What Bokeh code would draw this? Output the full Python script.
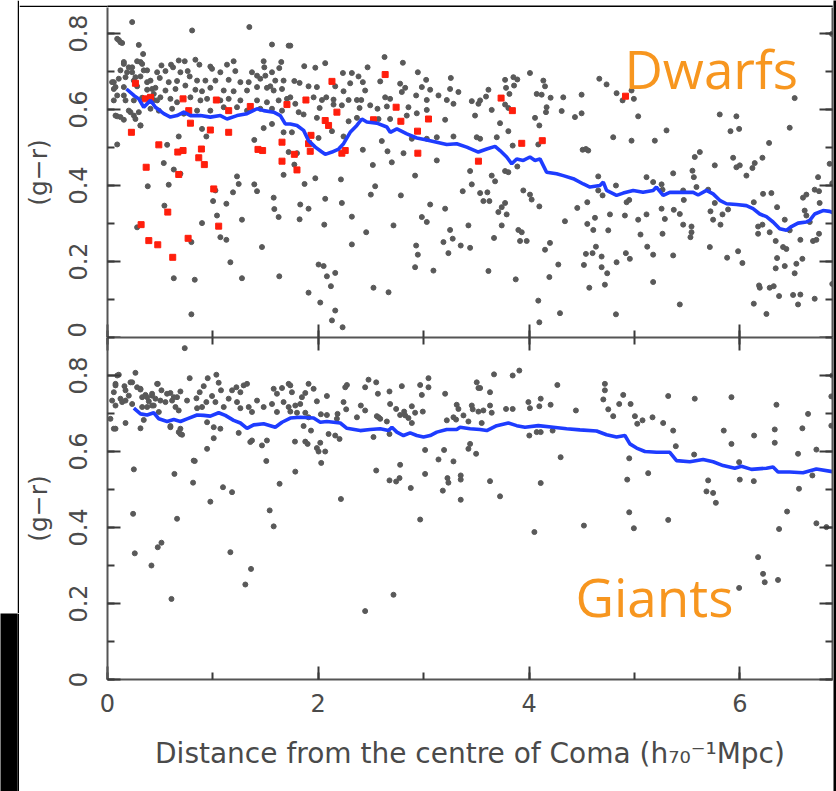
import numpy as np
from bokeh.plotting import figure
from bokeh.layouts import row, column
from bokeh.models import Range1d, LinearAxis, SingleIntervalTicker, Label, CustomLabelingPolicy
from bokeh.embed import file_html
from bokeh.resources import INLINE
from bokeh.core.validation import silence
from bokeh.core.validation.warnings import MISSING_RENDERERS

silence(MISSING_RENDERERS, True)

# ---------------- data (distance in h70^-1 Mpc, colour g-r) ----------------
dwarfs_grey = [
    (0.234,0.830),(0.803,0.808),(1.346,0.817),(0.107,0.783),(0.139,0.775),(0.297,0.770),(1.561,0.771),
    (0.338,0.746),(1.719,0.768),(0.155,0.725),(0.281,0.727),(0.329,0.720),(0.512,0.716),(0.603,0.718),
    (0.676,0.729),(0.733,0.727),(0.834,0.731),(0.872,0.718),(0.976,0.713),(1.134,0.718),(1.197,0.727),
    (1.482,0.727),(1.649,0.725),(1.488,0.711),(1.630,0.709),(0.123,0.703),(0.202,0.711),(0.234,0.698),
    (0.376,0.703),(0.471,0.698),(0.550,0.701),(0.622,0.711),(0.692,0.698),(0.761,0.701),(0.992,0.707),
    (1.071,0.698),(1.213,0.701),(1.371,0.698),(1.419,0.689),(1.498,0.689),(1.561,0.698),(0.060,0.672),
    (0.107,0.681),(0.171,0.685),(0.250,0.676),(0.313,0.687),(0.408,0.676),(0.496,0.683),(0.581,0.672),
    (0.660,0.675),(0.780,0.687),(0.850,0.676),(0.929,0.676),(1.024,0.676),(1.150,0.678),(1.261,0.672),
    (1.340,0.672),(1.450,0.681),(1.592,0.676),(1.671,0.676),(1.545,0.661),(0.060,0.654),(0.155,0.659),
    (0.281,0.661),(0.376,0.652),(0.455,0.657),(0.550,0.650),(0.645,0.654),(0.739,0.663),(0.834,0.652),
    (0.897,0.648),(0.976,0.657),(1.103,0.650),(1.197,0.648),(1.324,0.650),(1.419,0.659),(1.513,0.657),
    (1.577,0.650),(1.656,0.654),(0.060,0.624),(0.155,0.637),(0.250,0.624),(0.329,0.631),(0.439,0.625),
    (0.502,0.632),(0.597,0.628),(0.660,0.619),(0.787,0.632),(0.882,0.624),(0.945,0.628),(1.071,0.624),
    (1.150,0.628),(1.261,0.624),(1.419,0.624),(1.513,0.619),(1.624,0.624),(1.703,0.628),(0.092,0.582),
    (0.155,0.573),(0.202,0.597),(0.250,0.584),(0.297,0.593),(0.408,0.602),(0.487,0.597),(0.613,0.602),
    (0.724,0.589),(0.850,0.597),(0.976,0.597),(1.103,0.606),(1.229,0.606),(1.324,0.597),(1.450,0.602),
    (1.561,0.602),(1.656,0.597),(0.313,0.558),(0.897,0.549),(0.938,0.529),(0.676,0.529),(1.482,0.551),
    (1.561,0.562),(1.671,0.540),(1.393,0.520),(0.092,0.508),(0.566,0.507),(1.719,0.488),(0.534,0.459),
    (0.629,0.442),(0.692,0.431),(1.671,0.428),(1.229,0.424),(0.382,0.398),(0.581,0.402),(1.245,0.404),
    (1.393,0.403),(1.419,0.385),(1.191,0.382),(1.024,0.387),(1.002,0.359),(1.577,0.368),(1.128,0.352),
    (0.540,0.347),(1.583,0.338),(1.039,0.321),(1.624,0.317),(1.276,0.310),(0.897,0.301),(0.281,0.290),
    (1.071,0.264),(1.128,0.257),(1.466,0.238),(0.796,0.251),(1.166,0.198),(0.629,0.156),(0.828,0.152),
    (1.276,0.156),(1.630,0.161),(0.796,0.061),
    (0.092,0.786),(0.123,0.777),(0.044,0.672),(0.076,0.659),(0.092,0.637),(0.155,0.720),(0.186,0.698),
    (0.234,0.711),(0.265,0.685),(0.313,0.725),(0.344,0.703),(0.376,0.672),(0.423,0.654),(0.171,0.624),
    (0.076,0.584),(0.123,0.580),(0.218,0.593),(0.265,0.575),(0.313,0.558),(0.439,0.641),(0.471,0.624),
    (1.735,0.768),(2.629,0.738),(2.803,0.723),(1.867,0.714),(1.972,0.710),(2.066,0.722),(2.468,0.711),
    (2.234,0.696),(2.319,0.696),(2.382,0.687),(2.945,0.698),(3.024,0.678),(3.258,0.683),(1.773,0.675),
    (1.823,0.670),(1.908,0.661),(1.987,0.659),(2.161,0.661),(2.303,0.669),(2.423,0.672),(2.588,0.674),
    (2.777,0.668),(2.825,0.657),(2.983,0.659),(3.062,0.652),(3.141,0.637),(3.251,0.654),(3.330,0.646),
    (1.735,0.632),(1.956,0.632),(2.035,0.625),(2.076,0.632),(2.145,0.626),(2.240,0.648),(2.288,0.625),
    (2.367,0.625),(2.445,0.650),(2.408,0.625),(2.635,0.632),(2.682,0.628),(2.793,0.646),(2.929,0.637),
    (3.030,0.625),(3.220,0.625),(3.283,0.615),(3.457,0.622),(3.520,0.615),(1.861,0.587),(1.782,0.615),
    (2.013,0.604),(2.145,0.613),(2.224,0.611),(2.392,0.604),(2.493,0.611),(2.562,0.602),(2.651,0.608),
    (2.856,0.606),(2.935,0.590),(3.030,0.599),(3.488,0.584),(1.814,0.593),(1.987,0.578),(2.288,0.569),
    (2.367,0.578),(2.572,0.575),(2.682,0.575),(2.840,0.584),(3.204,0.573),(1.750,0.540),(2.003,0.525),
    (2.130,0.543),(2.240,0.529),(2.603,0.517),(2.888,0.523),(3.030,0.523),(3.283,0.529),(3.125,0.527),
    (3.504,0.527),(1.798,0.485),(2.423,0.494),(2.657,0.490),(2.809,0.485),(3.125,0.466),(1.773,0.455),
    (2.518,0.454),(2.698,0.461),(1.870,0.404),(1.972,0.419),(2.215,0.416),(2.919,0.426),(3.441,0.438),
    (2.540,0.398),(2.499,0.376),(2.784,0.374),(3.457,0.403),(3.371,0.385),(2.066,0.365),(2.224,0.354),
    (1.829,0.350),(1.908,0.339),(3.062,0.350),(3.204,0.339),(1.823,0.311),(2.319,0.318),(2.057,0.297),
    (2.714,0.295),(2.983,0.317),(3.030,0.304),(3.425,0.295),(2.455,0.277),(3.251,0.283),(3.188,0.251),
    (3.276,0.260),(3.352,0.242),(3.441,0.236),(2.319,0.245),(2.929,0.242),(2.945,0.218),(3.235,0.222),
    (2.003,0.192),(2.051,0.188),(2.161,0.170),(2.082,0.161),(2.919,0.185),(3.093,0.176),(2.120,0.135),
    (2.524,0.131),(2.667,0.119),(1.908,0.118),(2.019,0.092),(2.161,0.071),(2.130,0.045),(2.231,0.027),
    (4.009,0.696),(3.773,0.678),(3.852,0.685),(3.889,0.679),(4.136,0.676),(4.667,0.681),(4.736,0.666),
    (3.615,0.652),(3.782,0.657),(3.858,0.663),(4.152,0.661),(3.536,0.624),(3.592,0.634),(3.814,0.641),
    (4.073,0.641),(4.120,0.639),(4.205,0.631),(4.325,0.632),(4.499,0.639),(4.831,0.643),(4.973,0.650),
    (4.888,0.624),(4.995,0.628),(3.773,0.613),(3.804,0.604),(4.167,0.606),(3.646,0.599),(4.310,0.596),
    (4.161,0.593),(4.499,0.590),(4.436,0.580),(4.057,0.578),(5.036,0.582),(4.098,0.558),(3.725,0.564),
    (3.804,0.543),(3.536,0.523),(3.694,0.527),(3.845,0.505),(4.088,0.508),(4.799,0.527),(4.973,0.518),
    (5.194,0.518),(5.305,0.545),(4.509,0.494),(4.540,0.496),(4.562,0.492),(3.773,0.438),(3.804,0.435),
    (3.889,0.450),(3.646,0.426),(3.678,0.411),(4.657,0.424),(4.825,0.400),(4.657,0.387),(4.698,0.374),
    (5.115,0.422),(5.178,0.409),(5.258,0.403),(5.267,0.389),(3.536,0.380),(3.605,0.382),(3.567,0.359),
    (3.624,0.359),(3.946,0.387),(4.009,0.376),(4.025,0.363),(4.098,0.345),(3.773,0.354),(3.741,0.343),
    (3.709,0.330),(3.788,0.324),(4.553,0.356),(4.458,0.341),(4.926,0.356),(4.951,0.362),(4.768,0.324),
    (4.910,0.321),(5.036,0.310),(5.115,0.324),(5.258,0.339),(5.289,0.312),(3.741,0.295),(4.341,0.306),
    (4.553,0.299),(4.626,0.315),(4.610,0.283),(4.752,0.282),(5.058,0.271),(5.267,0.273),(3.668,0.262),
    (3.899,0.283),(3.931,0.277),(3.915,0.254),(3.978,0.254),(4.199,0.249),(4.152,0.231),(4.635,0.239),
    (4.540,0.220),(4.603,0.222),(4.689,0.213),(4.919,0.222),(4.957,0.207),(5.122,0.239),(5.178,0.218),
    (4.831,0.198),(4.278,0.192),(4.521,0.191),(4.689,0.185),(4.742,0.169),(3.615,0.175),(3.874,0.153),
    (4.193,0.159),(4.572,0.131),(4.720,0.139),(5.178,0.146),(4.088,0.097),(4.294,0.064),(4.825,0.061),
    (4.098,0.040),
    (6.875,0.799),(6.521,0.630),(5.810,0.587),(5.968,0.582),(5.912,0.543),(5.994,0.549),(6.474,0.552),
    (6.278,0.512),(5.621,0.488),(5.573,0.475),(5.937,0.473),(5.968,0.448),(6.000,0.453),(6.142,0.459),
    (6.120,0.446),(6.215,0.473),(6.063,0.426),(5.763,0.453),(5.368,0.432),(5.551,0.439),(5.564,0.422),
    (6.853,0.457),(6.743,0.422),(5.463,0.387),(5.469,0.362),(5.589,0.396),(5.700,0.389),(6.221,0.378),
    (6.300,0.380),(6.711,0.389),(6.752,0.385),(6.632,0.376),(6.600,0.368),(5.374,0.336),(5.431,0.325),
    (5.722,0.332),(5.763,0.354),(5.836,0.324),(5.889,0.337),(6.133,0.356),(6.354,0.343),(5.747,0.310),
    (5.817,0.297),(6.174,0.292),(6.215,0.297),(6.427,0.310),(6.616,0.334),(6.632,0.321),(6.664,0.304),
    (6.758,0.354),(6.878,0.406),(5.463,0.297),(5.542,0.292),(5.532,0.264),(5.542,0.277),(6.174,0.273),
    (6.284,0.277),(6.341,0.254),(6.411,0.238),(6.442,0.233),(6.474,0.282),(6.575,0.257),(6.695,0.254),
    (6.727,0.257),(6.752,0.273),(5.716,0.238),(5.880,0.210),(5.984,0.227),(6.025,0.196),(5.368,0.216),
    (6.354,0.209),(6.427,0.188),(6.341,0.182),(6.521,0.169),(6.537,0.194),(6.594,0.207),(6.183,0.137),
    (6.190,0.131),(6.284,0.131),(6.322,0.135),(6.373,0.109),(6.506,0.112),(6.575,0.113),(6.711,0.102),
    (5.431,0.087),(6.133,0.089),(6.553,0.087),(6.253,0.062),(6.878,0.141),
]

dwarfs_red = [
    (0.265,0.669),(0.360,0.628),(0.408,0.632),(0.717,0.628),(1.033,0.625),(0.771,0.597),(1.150,0.597),
    (1.355,0.608),(1.703,0.613),(0.787,0.564),(0.976,0.546),(1.150,0.540),(0.227,0.540),(0.487,0.507),
    (0.667,0.488),(0.717,0.492),(0.891,0.496),(1.428,0.495),(1.472,0.492),(1.656,0.514),(0.367,0.448),
    (0.866,0.473),(0.919,0.455),(1.656,0.464),(0.676,0.429),(1.008,0.391),(0.572,0.330),(0.319,0.297),
    (1.055,0.293),(0.392,0.255),(0.477,0.244),(0.765,0.261),(0.619,0.211),
    (2.130,0.674),(2.635,0.692),(1.883,0.625),(2.177,0.593),(2.739,0.606),(2.066,0.571),(2.098,0.558),
    (2.524,0.573),(2.784,0.569),(3.046,0.575),(2.942,0.543),(1.931,0.532),(1.908,0.510),(1.924,0.490),
    (1.773,0.482),(2.224,0.485),(2.256,0.492),(2.945,0.485),(3.520,0.464),(1.798,0.441),
    (3.735,0.630),(3.842,0.597),(3.931,0.511),(4.126,0.518),(4.916,0.635),
]

dwarfs_median_x = [
    0.180,0.250,0.297,0.344,0.408,0.455,0.534,0.597,0.660,0.724,
    0.787,0.882,0.976,1.071,1.134,1.229,1.324,1.419,1.482,1.577,
    1.640,1.687,1.735,1.798,1.861,1.908,1.972,2.035,2.066,2.130,
    2.193,2.240,2.303,2.366,2.414,2.461,2.556,2.651,2.683,2.746,
    2.841,2.935,3.030,3.125,3.219,3.314,3.409,3.519,3.599,3.678,
    3.725,3.788,3.836,3.883,3.946,4.009,4.057,4.104,4.167,4.262,
    4.325,4.420,4.515,4.578,4.673,4.705,4.736,4.831,4.894,4.989,
    5.082,5.178,5.209,5.273,5.336,5.463,5.558,5.605,5.684,5.747,
    5.810,5.874,5.968,6.063,6.126,6.190,6.253,6.316,6.379,6.442,
    6.490,6.553,6.632,6.664,6.711,6.790,6.853,6.910,
]
dwarfs_median_y = [
    0.654,0.637,0.628,0.606,0.624,0.606,0.589,0.580,0.584,0.593,
    0.584,0.584,0.580,0.584,0.575,0.584,0.589,0.602,0.597,0.593,
    0.584,0.562,0.562,0.558,0.545,0.518,0.501,0.488,0.482,0.488,
    0.496,0.510,0.540,0.558,0.575,0.567,0.564,0.554,0.540,0.549,
    0.536,0.525,0.520,0.514,0.508,0.510,0.501,0.488,0.496,0.503,
    0.492,0.475,0.457,0.470,0.466,0.475,0.466,0.470,0.435,0.431,
    0.426,0.418,0.404,0.396,0.400,0.409,0.387,0.374,0.380,0.387,
    0.382,0.387,0.396,0.374,0.382,0.382,0.382,0.375,0.387,0.378,
    0.361,0.352,0.350,0.347,0.339,0.325,0.318,0.304,0.286,0.282,
    0.292,0.301,0.304,0.308,0.325,0.334,0.332,0.325,
]

giants_grey = [
    (0.733,0.872),(0.265,0.807),(0.107,0.802),(0.076,0.778),(0.060,0.756),(0.161,0.772),(0.044,0.734),
    (0.123,0.739),(0.076,0.721),(0.171,0.734),(0.202,0.747),(0.234,0.782),(0.281,0.769),(0.313,0.763),
    (0.329,0.743),(0.360,0.749),(0.392,0.732),(0.423,0.747),(0.455,0.739),(0.477,0.778),(0.512,0.761),
    (0.439,0.721),(0.376,0.717),(0.487,0.704),(0.550,0.730),(0.597,0.754),(0.613,0.734),(0.660,0.743),
    (0.692,0.758),(0.645,0.717),(0.676,0.708),(0.755,0.734),(0.780,0.793),(0.844,0.740),(0.875,0.756),
    (0.913,0.772),(0.951,0.793),(1.033,0.802),(0.992,0.746),(1.055,0.781),(1.077,0.761),(0.938,0.730),
    (0.897,0.717),(1.024,0.730),(0.850,0.714),(1.103,0.717),(1.182,0.761),(1.223,0.769),(1.261,0.756),
    (1.292,0.774),(1.324,0.778),(1.150,0.739),(1.229,0.730),(1.261,0.714),(1.340,0.717),(1.419,0.734),
    (1.371,0.704),(1.482,0.717),(1.561,0.725),(1.608,0.752),(1.656,0.767),(1.577,0.765),(1.719,0.778),
    (1.671,0.730),(1.719,0.717),(1.608,0.704),(0.028,0.686),(0.060,0.660),(0.171,0.675),(0.313,0.661),
    (0.597,0.667),(0.692,0.660),(0.708,0.644),(0.676,0.651),(0.945,0.677),(1.008,0.664),(1.071,0.660),
    (1.245,0.649),(1.355,0.625),(1.371,0.629),(1.466,0.616),(1.513,0.629),(0.945,0.607),(1.008,0.635),
    (0.828,0.575),(1.507,0.575),(0.250,0.553),(0.635,0.541),(0.812,0.518),(1.633,0.515),(1.096,0.506),
    (1.182,0.493),(0.976,0.468),(0.243,0.436),(0.660,0.423),(1.539,0.445),(1.577,0.403),(0.512,0.360),
    (0.477,0.348),(0.259,0.332),(1.166,0.335),(0.417,0.300),(1.362,0.291),(1.308,0.250),(0.607,0.212),
    (0.092,0.800),(0.076,0.774),(0.171,0.761),(0.218,0.782),(0.313,0.765),(0.376,0.743),(0.423,0.752),
    (0.471,0.778),(0.502,0.734),(0.565,0.752),(0.629,0.743),(0.139,0.730),(0.234,0.725),(0.329,0.717),
    (0.423,0.721),(0.076,0.660),(0.344,0.683),(0.597,0.664),(0.692,0.646),(0.818,0.576),
    (1.735,0.774),(1.750,0.756),(1.877,0.754),(1.908,0.778),(1.956,0.765),(1.845,0.743),(1.782,0.721),
    (1.829,0.725),(1.987,0.732),(2.082,0.746),(2.272,0.775),(2.256,0.769),(2.445,0.769),(2.477,0.789),
    (2.550,0.782),(2.566,0.752),(2.676,0.758),(2.793,0.772),(2.967,0.775),(3.046,0.793),(3.046,0.769),
    (2.983,0.749),(3.204,0.752),(3.504,0.782),(3.520,0.767),(2.240,0.730),(2.265,0.711),(2.404,0.721),
    (2.445,0.708),(2.682,0.725),(2.739,0.712),(2.815,0.705),(2.888,0.719),(2.919,0.702),(2.992,0.705),
    (2.825,0.695),(2.777,0.696),(2.856,0.688),(2.888,0.675),(3.314,0.723),(3.330,0.712),(3.457,0.721),
    (3.466,0.711),(3.520,0.705),(1.735,0.705),(1.798,0.702),(1.877,0.702),(1.908,0.690),(2.025,0.698),
    (2.082,0.696),(2.183,0.699),(2.177,0.686),(2.367,0.690),(2.556,0.693),(2.572,0.690),(2.588,0.686),
    (2.651,0.679),(3.283,0.690),(3.308,0.684),(3.220,0.682),(3.425,0.679),(3.378,0.695),(1.861,0.667),
    (1.931,0.655),(2.098,0.646),(2.161,0.642),(2.202,0.633),(2.524,0.638),(2.676,0.646),(1.779,0.626),
    (1.877,0.626),(1.899,0.620),(1.987,0.609),(2.003,0.600),(2.066,0.600),(2.019,0.623),(3.014,0.604),
    (3.194,0.604),(3.425,0.607),(3.498,0.594),(3.441,0.620),(3.141,0.579),(3.283,0.574),(2.777,0.565),
    (2.028,0.570),(1.782,0.547),(2.550,0.550),(3.014,0.541),(2.676,0.524),(2.739,0.521),(2.771,0.530),
    (2.878,0.504),(3.226,0.530),(3.235,0.518),(3.182,0.497),(3.352,0.537),(3.352,0.526),(2.215,0.475),
    (3.352,0.473),(2.967,0.421),(2.714,0.223),(2.445,0.180),
    (3.908,0.813),(3.845,0.800),(3.668,0.803),(3.536,0.767),(3.630,0.756),(4.269,0.775),(4.720,0.778),
    (4.720,0.761),(4.705,0.737),(4.894,0.749),(5.321,0.746),(4.111,0.739),(3.994,0.730),(4.009,0.714),
    (4.098,0.719),(4.205,0.723),(3.630,0.721),(3.567,0.708),(3.646,0.702),(3.782,0.712),(3.845,0.712),
    (4.445,0.708),(4.752,0.711),(4.799,0.693),(4.856,0.725),(4.964,0.725),(5.005,0.693),(5.027,0.673),
    (5.077,0.682),(5.172,0.690),(5.273,0.675),(3.551,0.675),(4.003,0.642),(4.073,0.651),(4.111,0.651),
    (4.224,0.655),(4.300,0.585),(4.951,0.582),(3.630,0.522),(4.111,0.517),(4.932,0.526),(5.131,0.543),
    (3.725,0.482),(4.951,0.440),(4.995,0.398),(4.521,0.405),(4.051,0.388),(5.321,0.420),
    (5.573,0.739),(5.921,0.743),(6.348,0.723),(6.648,0.699),(6.869,0.745),(6.878,0.800),(5.368,0.655),
    (5.848,0.655),(6.136,0.642),(6.332,0.658),(6.594,0.661),(6.869,0.668),(5.393,0.614),(5.921,0.620),
    (6.332,0.623),(6.553,0.594),(6.727,0.605),(5.567,0.592),(5.994,0.572),(5.700,0.524),(6.000,0.526),
    (6.133,0.522),(6.689,0.537),(6.562,0.502),(5.684,0.495),(5.747,0.491),(5.773,0.465),(6.449,0.442),
    (6.727,0.411),(6.822,0.401),(6.373,0.396),(6.174,0.322),(6.221,0.278),(6.237,0.256),(6.363,0.262),
    (5.994,0.241),
]

giants_median_x = [
    0.250,0.313,0.376,0.439,0.487,0.566,0.629,0.692,0.755,0.850,
    0.913,0.976,1.055,1.118,1.197,1.261,1.324,1.387,1.482,1.545,
    1.592,1.656,1.735,1.830,1.956,2.019,2.082,2.209,2.272,2.398,
    2.493,2.588,2.667,2.699,2.746,2.809,2.872,2.935,2.999,3.062,
    3.125,3.219,3.314,3.346,3.441,3.535,3.599,3.694,3.804,3.883,
    3.962,4.088,4.230,4.357,4.483,4.641,4.736,4.831,4.910,4.957,
    5.021,5.100,5.210,5.336,5.400,5.526,5.652,5.747,5.842,5.953,
    6.016,6.111,6.253,6.316,6.363,6.474,6.600,6.727,6.878,
]
giants_median_y = [
    0.714,0.699,0.696,0.702,0.686,0.679,0.684,0.679,0.686,0.696,
    0.695,0.693,0.702,0.695,0.682,0.675,0.661,0.670,0.673,0.668,
    0.664,0.677,0.688,0.690,0.688,0.677,0.679,0.675,0.661,0.655,
    0.658,0.660,0.655,0.664,0.651,0.642,0.649,0.642,0.638,0.642,
    0.651,0.658,0.658,0.664,0.660,0.658,0.655,0.668,0.675,0.668,
    0.664,0.668,0.664,0.660,0.657,0.654,0.644,0.638,0.642,0.620,
    0.609,0.600,0.598,0.598,0.576,0.573,0.579,0.573,0.563,0.556,
    0.561,0.553,0.556,0.559,0.546,0.546,0.544,0.554,0.547,
]

x_label = "Distance from the centre of Coma (h\u2087\u2080\u207b\u00b9Mpc)"
y_label = "(g\u2212r)"

assert len(dwarfs_median_x) == len(dwarfs_median_y)
assert len(giants_median_x) == len(giants_median_y)

# ---------------- styling ----------------
GREY_PT = "#595959"
RED_PT = "#ff1e0c"
BLUE = "#1e3cff"
ORANGE = "#f7961f"
AX = "#555555"
TXT = "#4a4a4a"
FONT = "DejaVu Sans"
X_MAX = 6.88

HIDE_ALL = "for (const i of indices) { indices.unset(i) }\nreturn indices"


def axis(ticker_interval, labels):
    ax = LinearAxis(ticker=SingleIntervalTicker(interval=ticker_interval, num_minor_ticks=2))
    ax.axis_line_color = AX
    ax.axis_line_width = 2
    ax.major_tick_in = 13
    ax.major_tick_out = 0
    ax.minor_tick_in = 7
    ax.minor_tick_out = 0
    ax.major_tick_line_color = "#3a3a3a"
    ax.major_tick_line_width = 2
    ax.minor_tick_line_color = "#3a3a3a"
    ax.minor_tick_line_width = 2
    if labels:
        ax.major_label_text_font = FONT
        ax.major_label_text_font_size = "24px"
        ax.major_label_text_color = TXT
    else:
        ax.major_label_text_font_size = "0px"
        ax.major_label_standoff = 0
        ax.major_label_policy = CustomLabelingPolicy(code=HIDE_ALL)
    return ax


def blank(w, h, fill):
    f = figure(width=w, height=h, x_range=Range1d(0, 1), y_range=Range1d(0, 1),
               x_axis_location=None, y_axis_location=None, toolbar_location=None,
               output_backend="svg", min_border=0, background_fill_color=fill,
               border_fill_color=fill, outline_line_color=None)
    f.grid.visible = False
    return f


def panel(height, y_max, border_bottom):
    p = figure(width=814, height=height, x_range=Range1d(0, X_MAX), y_range=Range1d(0, y_max),
               x_axis_location=None, y_axis_location=None, toolbar_location=None,
               output_backend="svg", min_border_left=88, min_border_right=1,
               min_border_top=0, min_border_bottom=border_bottom,
               background_fill_color="white", border_fill_color="white",
               outline_line_color=None)
    p.grid.visible = False
    ya = axis(0.2, True)
    ya.major_label_orientation = "vertical"
    ya.major_label_standoff = 21
    ya.axis_label = y_label
    ya.axis_label_text_font = FONT
    ya.axis_label_text_font_size = "25px"
    ya.axis_label_text_font_style = "normal"
    ya.axis_label_text_color = TXT
    ya.axis_label_standoff = 13
    p.add_layout(ya, "left")
    p.add_layout(axis(0.2, False), "right")
    return p


# top panel: Dwarfs
top = panel(330, 330 / 380, 0)
top.add_layout(axis(2, False), "below")
top.scatter([q[0] for q in dwarfs_grey], [q[1] for q in dwarfs_grey],
            size=5, color=GREY_PT, marker="circle")
top.scatter([q[0] for q in dwarfs_red], [q[1] for q in dwarfs_red],
            size=6, color=RED_PT, marker="square")
top.line(dwarfs_median_x, dwarfs_median_y, line_color=BLUE, line_width=3.6)
top.add_layout(Label(x=4.905, y=0.708, text="Dwarfs", text_font="Open Sans",
                     text_font_size="53px", text_color=ORANGE, text_baseline="alphabetic"))

# bottom panel: Giants
bot = panel(454, 342 / 380, 112)
xa = axis(2, True)
xa.major_label_standoff = 14
xa.axis_label = x_label
xa.axis_label_text_font = FONT
xa.axis_label_text_font_size = "28px"
xa.axis_label_text_font_style = "normal"
xa.axis_label_text_color = TXT
xa.axis_label_standoff = 22
bot.add_layout(xa, "below")
bot.add_layout(axis(2, False), "above")
bot.scatter([q[0] for q in giants_grey], [q[1] for q in giants_grey],
            size=5, color=GREY_PT, marker="circle")
bot.line(giants_median_x, giants_median_y, line_color=BLUE, line_width=3.6)
bot.add_layout(Label(x=4.44, y=0.219, text="Giants", text_font="Open Sans",
                     text_font_size="53px", text_color=ORANGE, text_baseline="alphabetic"))

# framing strips of the cropped figure
strip = figure(width=19, height=613, x_range=Range1d(0, 1), y_range=Range1d(0, 1),
               x_axis_location=None, y_axis_location=None, toolbar_location=None,
               output_backend="svg", min_border=0, min_border_right=2,
               background_fill_color="white", border_fill_color="black", outline_line_color=None)
strip.grid.visible = False
left_black = blank(19, 178, "black")
top_bar = blank(814, 7, "black")
right_black = blank(3, 791, "black")

layout = row(column(strip, left_black, spacing=0),
             column(top_bar, top, bot, spacing=0),
             right_black, spacing=0)

with open("out.html", "w") as fh:
    fh.write(file_html(layout, INLINE))
